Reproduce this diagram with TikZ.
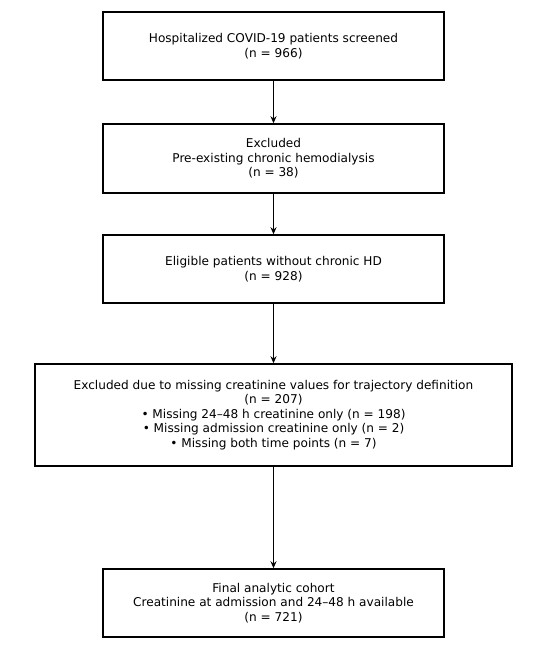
\documentclass[tikz,border=0pt]{standalone}
\usepackage{fontspec}
\setmainfont{DejaVu Sans}
\usetikzlibrary{arrows.meta}
\begin{document}
\begin{tikzpicture}[x=1pt,y=-1pt,
  box/.style={draw=black, line width=1.5pt, rectangle, inner sep=0pt, align=center, font=\fontsize{12.1}{14.5}\selectfont},
  conn/.style={draw=black, line width=1.5pt, -{Stealth[length=7pt,width=6pt]}}]
\fill[white] (0,0) rectangle (550,646);
\useasboundingbox (0,0) rectangle (550,646);
\node[box, minimum width=341pt, minimum height=68pt] (a) at (273.5,46) {Hospitalized COVID-19 patients screened\\(n = 966)};
\node[box, minimum width=341pt, minimum height=69pt] (b) at (273.5,158.5) {Excluded\\Pre-existing chronic hemodialysis\\(n = 38)};
\node[box, minimum width=341pt, minimum height=68pt] (c) at (273.5,269) {Eligible patients without chronic HD\\(n = 928)};
\node[box, minimum width=477pt, minimum height=102pt] (d) at (273.5,415) {Excluded due to missing creatinine values for trajectory definition\\(n = 207)\\• Missing 24–48 h creatinine only (n = 198)\\• Missing admission creatinine only (n = 2)\\• Missing both time points (n = 7)};
\node[box, minimum width=341pt, minimum height=68pt] (e) at (273.5,603) {Final analytic cohort\\Creatinine at admission and 24–48 h available\\(n = 721)};
\draw[conn] (a) -- (b);
\draw[conn] (b) -- (c);
\draw[conn] (c) -- (d);
\draw[conn] (d) -- (e);
\end{tikzpicture}
\end{document}
